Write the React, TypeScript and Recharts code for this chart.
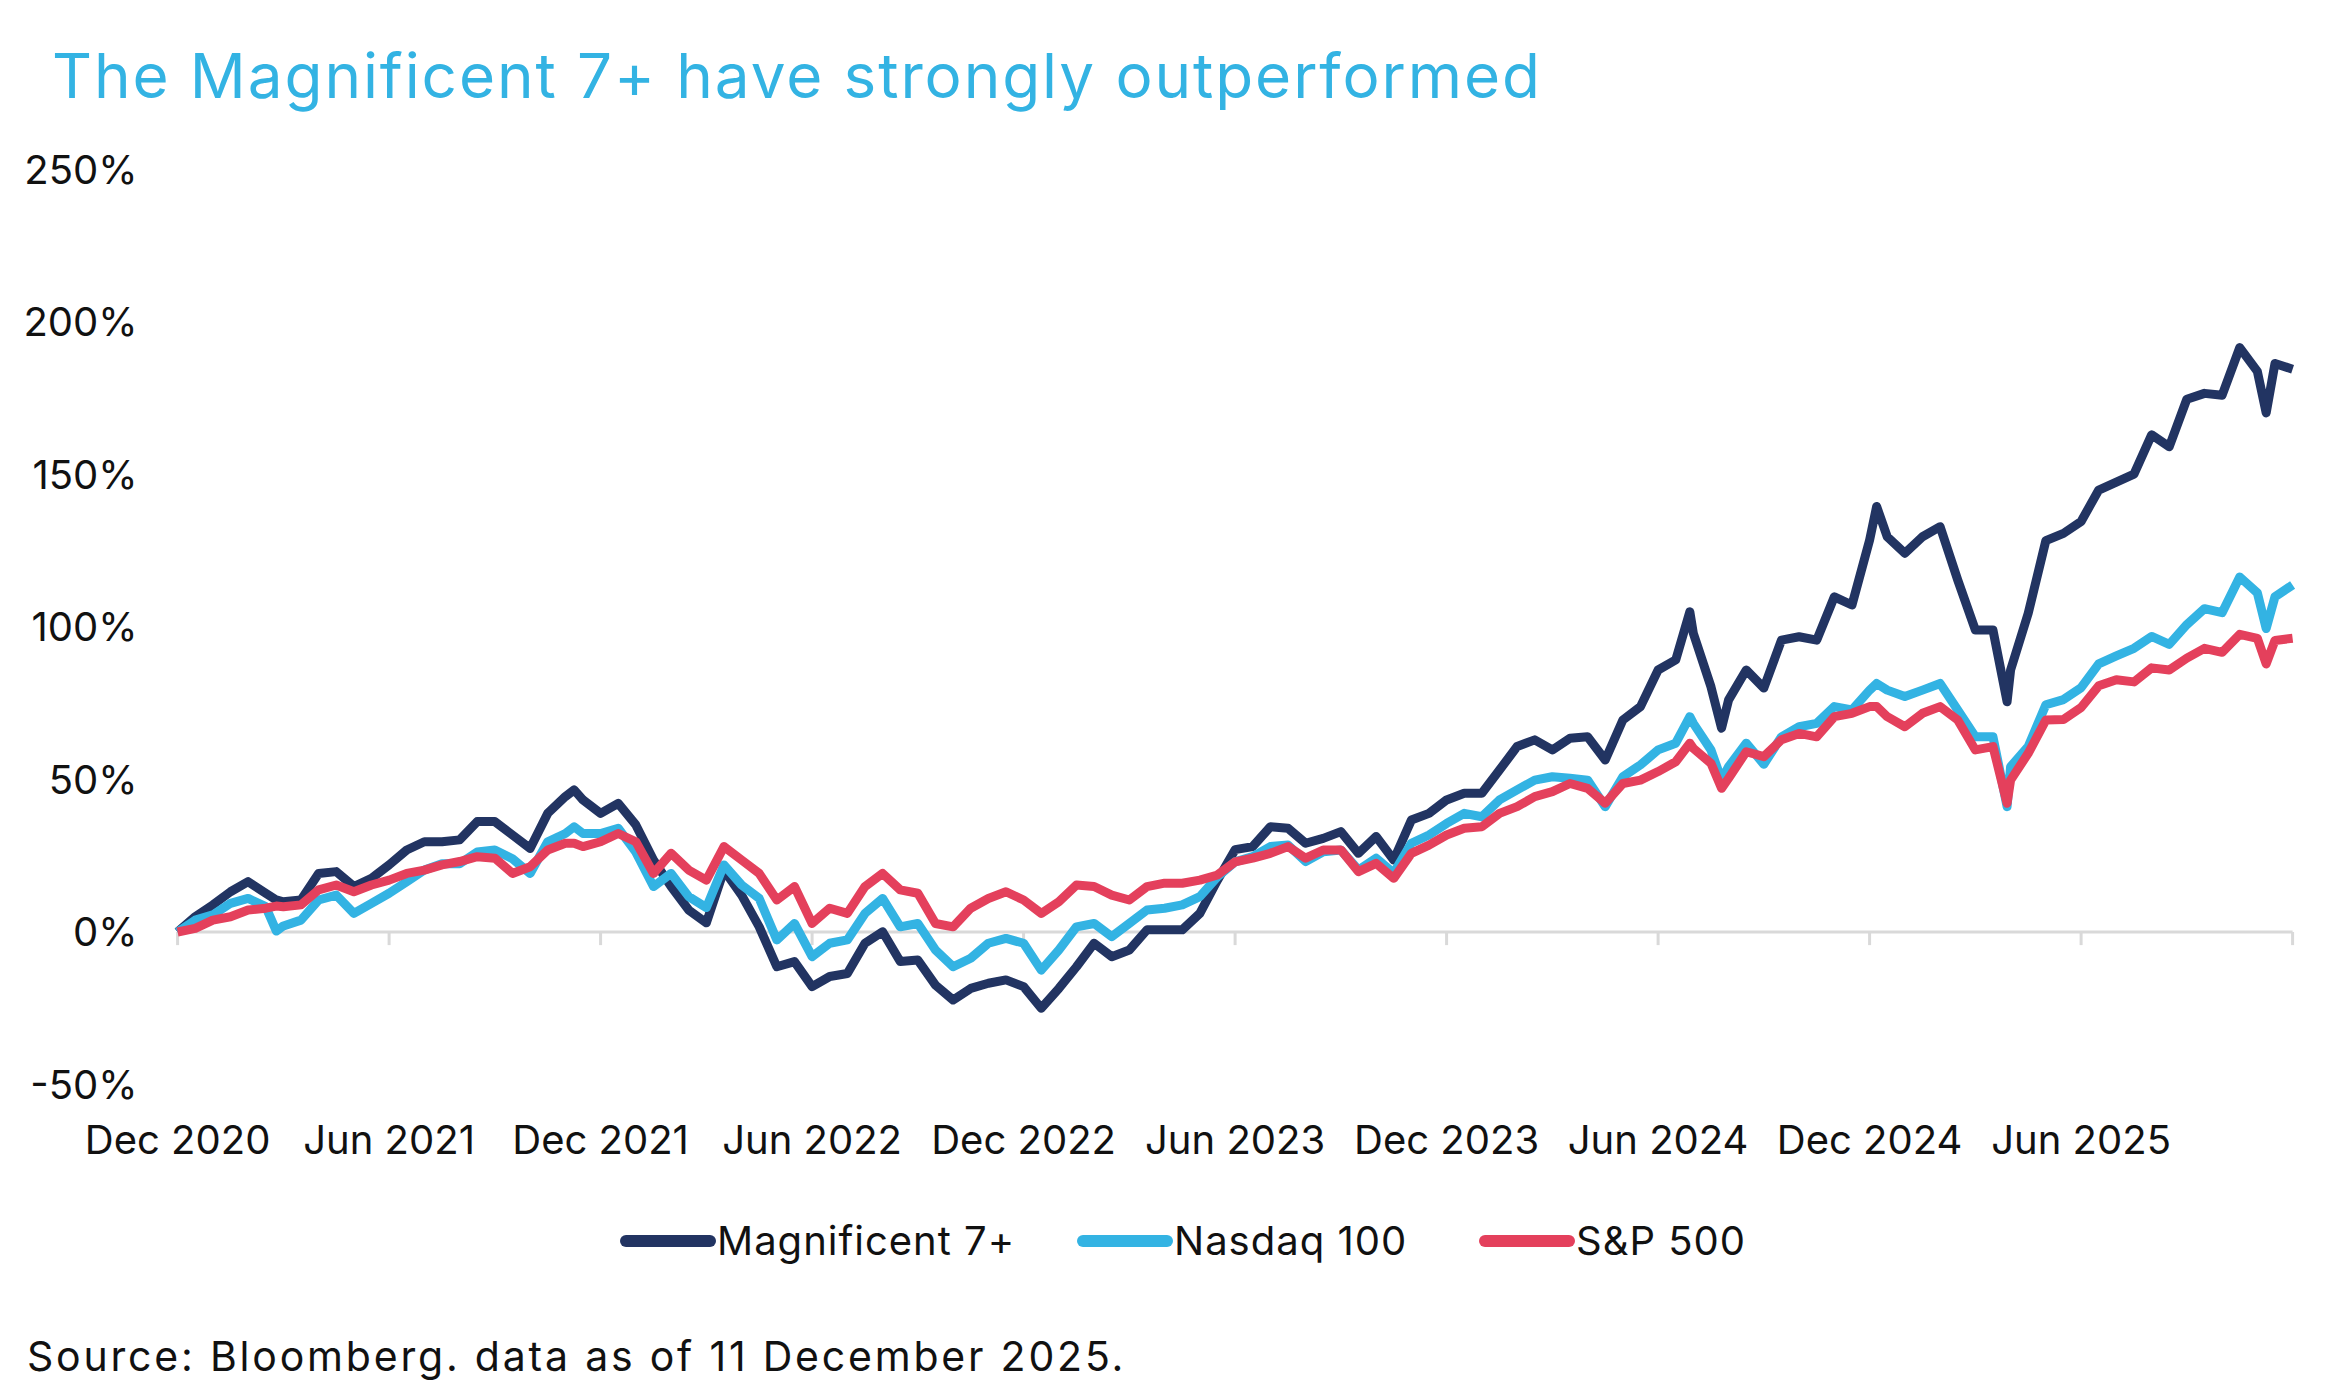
import React from "react";
import { LineChart, Line, XAxis, YAxis, ReferenceLine } from "recharts";

// cumulative return (%), sampled every half month from Dec 2020
const mag7 = [
  0, 5.0, 8.9, 13.2, 16.5, 12.7, 9.9, 10.5, 19.2, 19.8, 14.9, 17.6, 22.0, 26.9, 29.6, 29.6,
  30.2, 36.2, 36.2, 31.8, 27.4, 38.9, 44.4, 43.3, 38.9, 42.2, 35.1, 23.6, 14.9, 7.2, 3,
  20.3, 12.1, 1.7, -11.4, -9.7, -17.9, -14.6, -13.6, -3.7, 0.1, -9.7, -9.2, -17.4, -22.3, -18.5,
  -16.8, -15.7, -17.9, -25.0, -18.5, -11.4, -3.7, -8.1, -5.9, 0.7, 0.7, 0.7, 6.1, 17.0, 27,
  28.0, 34.5, 34.0, 29.1, 30.7, 32.9, 25.8, 31.3, 23.6, 36.7, 38.9, 43.3, 45.5, 45.5, 53.1,
  60.8, 63.0, 59.7, 63.5, 64.0, 56.4, 69.5, 73.9, 85.9, 89.2, 97.9, 80.4, 76.1, 85.9, 80,
  95.7, 96.8, 95.7, 109.9, 107.2, 128.5, 129.6, 124.2, 129.6, 132.9, 115.4, 99.0, 99.0, 85.9, 104.5, 128.3,
  130.7, 134.6, 144.9, 147.5, 150.1, 163.0, 159.1, 174.7, 176.6, 176.0, 191.6, 183.8, 186.4, 184.5,
];

const nasdaq100 = [
  0, 3.9, 5.6, 9.4, 11.0, 8.3, 2, 3.9, 10.5, 12.1, 6.1, 9.4, 12.7, 16.5, 20.3, 22.4,
  22.4, 26.2, 26.9, 24.0, 19.2, 29.6, 32.3, 32.3, 32.3, 34.0, 26.2, 14.9, 19.2, 11.6, 8,
  22.0, 15.4, 11.0, -2.6, 2.8, -8.1, -3.7, -2.6, 6.1, 11.0, 1.7, 2.8, -5.9, -11.4, -8.6,
  -3.7, -2.1, -3.7, -12.5, -5.9, 1.7, 2.8, -1.5, 2.8, 7.2, 7.8, 8.9, 11.6, 18.1, 23,
  24.7, 28.0, 28.5, 23.1, 26.3, 26.9, 20.3, 24.2, 19.3, 29.1, 31.8, 35.6, 38.9, 37.8, 43.3,
  46.6, 49.8, 50.9, 50.4, 49.8, 41.1, 50.9, 54.8, 59.7, 61.9, 68.4, 59.7, 54.2, 61.9, 55,
  64.0, 67.3, 68.4, 73.9, 72.8, 79.3, 79.3, 77.2, 79.3, 81.5, 72.8, 64.0, 64.0, 54.2, 60.8, 74.5,
  76.2, 80.1, 87.9, 90.5, 93.0, 96.9, 94.3, 100.8, 106.0, 104.7, 116.4, 111.2, 109.9, 113.8,
];

const sp500 = [
  0, 1.2, 3.9, 5.0, 7.2, 7.8, 8.3, 8.9, 13.8, 15.4, 13.2, 15.4, 17.0, 19.2, 20.3, 22.0,
  23.1, 24.7, 24.2, 19.2, 21.4, 26.9, 29.1, 28.0, 29.6, 32.3, 29.6, 19.2, 25.8, 20.3, 17,
  28.0, 23.6, 19.2, 10.5, 14.9, 2.8, 7.8, 6.1, 14.9, 19.2, 13.8, 12.7, 2.8, 1.7, 7.8,
  11.0, 13.2, 10.5, 6.1, 9.9, 15.4, 14.9, 12.1, 10.5, 14.9, 16.0, 16.0, 17.0, 18.7, 23,
  24.2, 25.8, 28.0, 24.2, 26.9, 26.9, 19.8, 22.5, 17.6, 25.8, 28.5, 31.8, 34.0, 34.5, 38.9,
  41.1, 44.4, 46.0, 48.7, 47.1, 42.2, 48.7, 49.8, 52.6, 55.8, 60.2, 55.3, 50.4, 59.1, 57.5,
  63.0, 65.1, 64.0, 70.6, 71.7, 73.9, 70.6, 67.3, 71.7, 73.9, 69.5, 59.7, 60.8, 49.8, 58.6, 69.5,
  69.7, 73.6, 80.7, 82.7, 82.0, 86.6, 85.9, 89.8, 93.0, 91.7, 97.6, 96.3, 95.6, 96.3,
];

// short-lived peaks and troughs that fall between the half-month samples
const extraMonths = [2.8, 11.25, 42.9, 43.8, 48.2, 51.9, 59.25];
const extraMag7 = [10.5, 46.6, 105, 66.8, 139.5, 75.5, 170.2];
const extraNasdaq100 = [0.3, 34.5, 70.6, 49.8, 81.5, 41.1, 99.5];
const extraSp500 = [8.5, 29.1, 61.9, 47.1, 73.9, 42.2, 87.9];

const xTicks = [0, 6, 12, 18, 24, 30, 36, 42, 48, 54, 60];
const xTickLabels = [
  "Dec 2020", "Jun 2021", "Dec 2021", "Jun 2022", "Dec 2022", "Jun 2023",
  "Dec 2023", "Jun 2024", "Dec 2024", "Jun 2025", "",
];
const yTicks = [-50, 0, 50, 100, 150, 200, 250];

const seriesNames = ["Magnificent 7+", "Nasdaq 100", "S&P 500"];

const NAVY = "#223462";
const CYAN = "#33b3e3";
const RED = "#e4405c";
const FONT = "Inter, 'Noto Sans', sans-serif";

const data = [
  ...mag7.map((v, i) => ({ m: i / 2, mag7: v, ndx: nasdaq100[i], spx: sp500[i] })),
  ...extraMonths.map((m, i) => ({ m, mag7: extraMag7[i], ndx: extraNasdaq100[i], spx: extraSp500[i] })),
].sort((a, b) => a.m - b.m);

const tickStyle = { fontSize: 40, fill: "#111", fontFamily: FONT };

export default function App() {
  const legend = [
    { name: seriesNames[0], color: NAVY, x: 620 },
    { name: seriesNames[1], color: CYAN, x: 1077 },
    { name: seriesNames[2], color: RED, x: 1479 },
  ];
  return (
    <div style={{ position: "absolute", left: 0, top: 0, width: 2341, height: 1396, background: "#fff" }}>
      <LineChart
        width={2341}
        height={1396}
        data={data}
        margin={{ top: 169.5, right: 48.4, left: 37.6, bottom: 231.5 }}
      >
        <XAxis
          type="number"
          dataKey="m"
          domain={[0, 60]}
          ticks={xTicks}
          interval={0}
          height={80}
          axisLine={false}
          tickLine={false}
          tickSize={0}
          tickMargin={41}
          tick={tickStyle}
          tickFormatter={(v: number) => xTickLabels[xTicks.indexOf(v)] ?? ""}
        />
        <YAxis
          domain={[-50, 250]}
          ticks={yTicks}
          interval={0}
          width={140}
          axisLine={false}
          tickLine={false}
          tickSize={0}
          tickMargin={40}
          tick={tickStyle}
          tickFormatter={(v: number) => `${v}%`}
        />
        <ReferenceLine y={0} stroke="#d9d9d9" strokeWidth={3} />
        {xTicks.map((t) => (
          <ReferenceLine
            key={t}
            segment={[{ x: t, y: 0 }, { x: t, y: -4.3 }]}
            stroke="#d9d9d9"
            strokeWidth={3}
          />
        ))}
        <Line
          type="linear"
          dataKey="mag7"
          name={seriesNames[0]}
          stroke={NAVY}
          strokeWidth={9}
          strokeLinejoin="round"
          dot={false}
          isAnimationActive={false}
        />
        <Line
          type="linear"
          dataKey="ndx"
          name={seriesNames[1]}
          stroke={CYAN}
          strokeWidth={9}
          strokeLinejoin="round"
          dot={false}
          isAnimationActive={false}
        />
        <Line
          type="linear"
          dataKey="spx"
          name={seriesNames[2]}
          stroke={RED}
          strokeWidth={9}
          strokeLinejoin="round"
          dot={false}
          isAnimationActive={false}
        />
      </LineChart>

      <svg
        width={2341}
        height={1396}
        style={{ position: "absolute", left: 0, top: 0, pointerEvents: "none" }}
        fontFamily={FONT}
      >
        <text x={52} y={98} fontSize={62} fill={CYAN} letterSpacing={1.9}>
          The Magnificent 7+ have strongly outperformed
        </text>
        {legend.map((l) => (
          <g key={l.name}>
            <line x1={l.x + 6} x2={l.x + 90} y1={1241} y2={1241} stroke={l.color} strokeWidth={12} strokeLinecap="round" />
            <text x={l.x + 97} y={1255} fontSize={40} fill="#111" letterSpacing={1}>
              {l.name}
            </text>
          </g>
        ))}
        <text x={27} y={1371} fontSize={41} fill="#111" letterSpacing={2.8}>
          Source: Bloomberg. data as of 11 December 2025.
        </text>
      </svg>
    </div>
  );
}
